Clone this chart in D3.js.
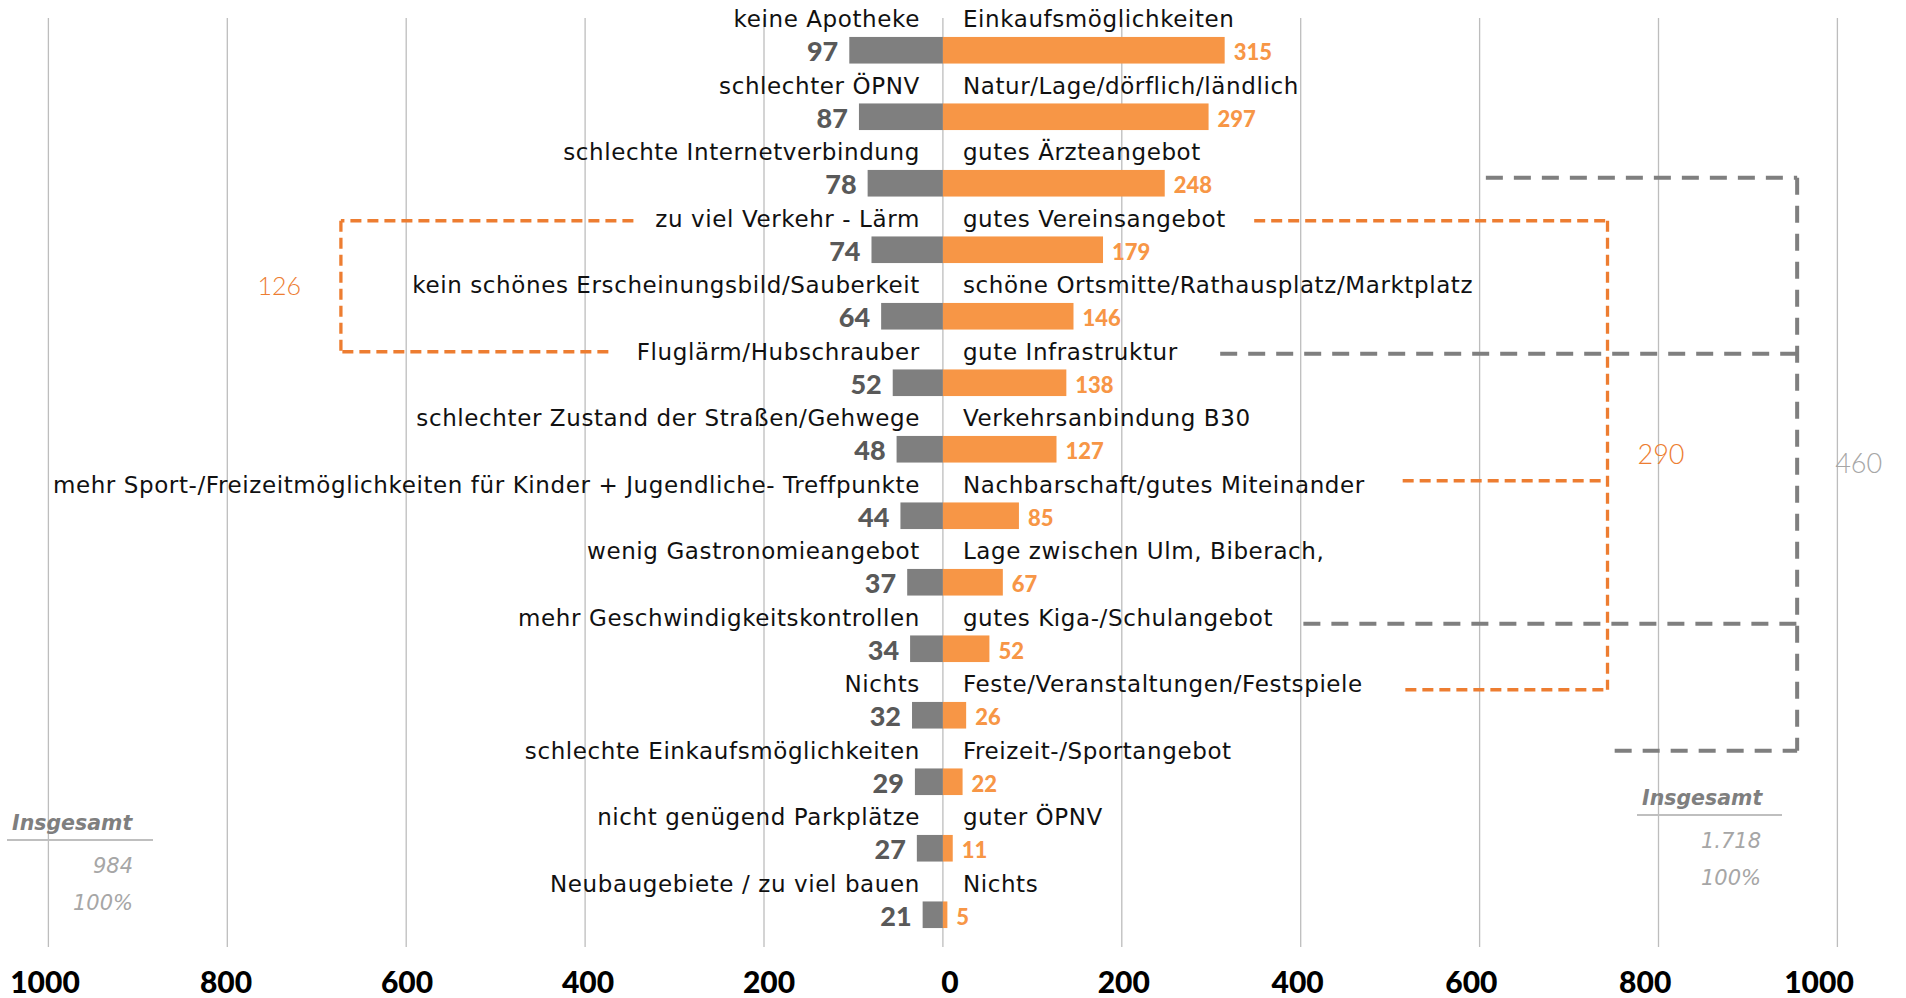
<!DOCTYPE html>
<html>
<head>
<meta charset="utf-8">
<script src="https://cdn.jsdelivr.net/npm/d3@7"></script>
<style>
  body { margin: 0; background: #fff; }
  svg { display: block; }
  .cat { font-family: "DejaVu Sans", sans-serif; font-size: 23px; letter-spacing: 0.6px; fill: #111; }
  .num { font-family: Lato, sans-serif; font-weight: 900; }
</style>
</head>
<body>
<script>
// Data
var leftLabels = [
    "keine Apotheke", "schlechter ÖPNV", "schlechte Internetverbindung",
    "zu viel Verkehr - Lärm", "kein schönes Erscheinungsbild/Sauberkeit",
    "Fluglärm/Hubschrauber", "schlechter Zustand der Straßen/Gehwege",
    "mehr Sport-/Freizeitmöglichkeiten für Kinder + Jugendliche- Treffpunkte",
    "wenig Gastronomieangebot", "mehr Geschwindigkeitskontrollen", "Nichts",
    "schlechte Einkaufsmöglichkeiten", "nicht genügend Parkplätze",
    "Neubaugebiete / zu viel bauen"
];
var leftValues = [97, 87, 78, 74, 64, 52, 48, 44, 37, 34, 32, 29, 27, 21];

var rightLabels = [
    "Einkaufsmöglichkeiten", "Natur/Lage/dörflich/ländlich", "gutes Ärzteangebot",
    "gutes Vereinsangebot", "schöne Ortsmitte/Rathausplatz/Marktplatz",
    "gute Infrastruktur", "Verkehrsanbindung B30", "Nachbarschaft/gutes Miteinander",
    "Lage zwischen Ulm, Biberach,", "gutes Kiga-/Schulangebot",
    "Feste/Veranstaltungen/Festspiele", "Freizeit-/Sportangebot", "guter ÖPNV", "Nichts"
];
var rightValues = [315, 297, 248, 179, 146, 138, 127, 85, 67, 52, 26, 22, 11, 5];

var ticks = [-1000, -800, -600, -400, -200, 0, 200, 400, 600, 800, 1000];
var tickLabels = ["1000", "800", "600", "400", "200", "0", "200", "400", "600", "800", "1000"];

// summed groups (dashed brackets): rows that are added up
var bracketTotals = ["126", "290", "460"];
var bracketRows = [[3, 5], [3, 7, 10], [2, 5, 9, 11]];
var bracketSide = ["left", "right", "right"];

var totalTitles = ["Insgesamt", "Insgesamt"];
var totalValues = ["984", "1.718"];
var totalPercents = ["100%", "100%"];

// Layout
var W = 1906, H = 998;
var ORANGE = "#f79646", ORANGE_LINE = "#ed7d31", GRAY = "#7f7f7f";

var svg = d3.select("body").append("svg")
    .attr("width", W).attr("height", H);

var x = d3.scaleLinear().domain([-1000, 1000]).range([48.4, 1837.4]);
// the left half of the original was drawn a bit wider
var xLeft = d3.scaleLinear().domain([0, 1000]).range([x(0), x(0) - 965]);
// tick texts were placed slightly off the grid in the original
var xTick = d3.scaleLinear().domain([-1000, 0, 1000]).range([45, 950, 1819]);

var rows = d3.range(leftLabels.length);
var y = d3.scaleBand().domain(rows).range([17, 948]).paddingInner(0.6).paddingOuter(0.3);
var yc = function(i) { return y(i) + y.bandwidth() / 2; };

// Grid
svg.append("g").selectAll("line")
    .data(ticks)
    .enter().append("line")
    .attr("x1", function(d) { return x(d); })
    .attr("x2", function(d) { return x(d); })
    .attr("y1", 18).attr("y2", 947)
    .attr("stroke", "#bdbdbd").attr("stroke-width", 1.3);

svg.append("g").selectAll("text")
    .data(ticks)
    .enter().append("text")
    .attr("class", "num")
    .attr("x", function(d) { return xTick(d); })
    .attr("y", 993)
    .attr("text-anchor", "middle")
    .attr("font-size", 30)
    .attr("fill", "#000")
    .text(function(d, i) { return tickLabels[i]; });

// Bars
svg.append("g").selectAll("rect")
    .data(leftValues)
    .enter().append("rect")
    .attr("x", function(d) { return xLeft(d); })
    .attr("y", function(d, i) { return y(i); })
    .attr("width", function(d) { return x(0) - xLeft(d); })
    .attr("height", y.bandwidth())
    .attr("fill", GRAY);

svg.append("g").selectAll("rect")
    .data(rightValues)
    .enter().append("rect")
    .attr("x", x(0))
    .attr("y", function(d, i) { return y(i); })
    .attr("width", function(d) { return x(d) - x(0); })
    .attr("height", y.bandwidth())
    .attr("fill", ORANGE);

// Value labels
svg.append("g").selectAll("text")
    .data(leftValues)
    .enter().append("text")
    .attr("class", "num")
    .attr("x", function(d) { return xLeft(d) - 11; })
    .attr("y", function(d, i) { return yc(i) + 11; })
    .attr("text-anchor", "end")
    .attr("font-size", 27)
    .attr("fill", "#595959")
    .text(function(d) { return d; });

svg.append("g").selectAll("text")
    .data(rightValues)
    .enter().append("text")
    .attr("class", "num")
    .attr("x", function(d) { return x(d) + 9; })
    .attr("y", function(d, i) { return yc(i) + 10; })
    .attr("font-size", 22)
    .attr("fill", ORANGE)
    .text(function(d) { return d; });

// Category labels
svg.append("g").selectAll("text")
    .data(leftLabels)
    .enter().append("text")
    .attr("class", "cat")
    .attr("x", x(0) - 23)
    .attr("y", function(d, i) { return yc(i) - 23; })
    .attr("text-anchor", "end")
    .text(function(d) { return d; });

svg.append("g").selectAll("text")
    .data(rightLabels)
    .enter().append("text")
    .attr("class", "cat")
    .attr("x", x(0) + 20)
    .attr("y", function(d, i) { return yc(i) - 23; })
    .text(function(d) { return d; });

// Dashed brackets
// vertical position of each bracket, arm ends and arm offsets (data units / px)
var bracketX = [-673, 743, 955];
var bracketEnds = [[-346, -374], [348, 514, 517], [607, 310, 403, 751]];
var bracketDy = [[-29, -31], [-29, -35, -25.5], [-5.5, -29, -25, -31]];
var bracketStyle = [
    {color: ORANGE_LINE, width: 3.3, dash: "11 6", text: ORANGE_LINE, dx: -40, size: 25},
    {color: ORANGE_LINE, width: 3.3, dash: "11 6", text: ORANGE_LINE, dx: 30, size: 27},
    {color: GRAY, width: 4, dash: "17 11", text: "#a6a6a6", dx: 38, size: 27}
];

bracketTotals.forEach(function(total, b) {
    var st = bracketStyle[b];
    var g = svg.append("g")
        .attr("fill", "none")
        .attr("stroke", st.color)
        .attr("stroke-width", st.width)
        .attr("stroke-dasharray", st.dash);
    var vx = x(bracketX[b]);
    var ys = bracketRows[b].map(function(r, k) { return yc(r) + bracketDy[b][k]; });

    g.append("line")
        .attr("x1", vx).attr("x2", vx)
        .attr("y1", ys[0]).attr("y2", ys[ys.length - 1]);
    ys.forEach(function(yy, k) {
        g.append("line")
            .attr("x1", x(bracketEnds[b][k])).attr("x2", vx)
            .attr("y1", yy).attr("y2", yy);
    });

    svg.append("text")
        .attr("x", vx + st.dx)
        .attr("y", (ys[0] + ys[ys.length - 1]) / 2 + 9)
        .attr("text-anchor", bracketSide[b] == "left" ? "end" : "start")
        .attr("font-family", "Lato, sans-serif")
        .attr("font-weight", 300)
        .attr("font-size", st.size)
        .attr("fill", st.text)
        .text(total);
});

// Totals boxes
var boxes = [
    {lineX: 7, lineW: 146, lineY: 840, right: 133},
    {lineX: 1637, lineW: 145, lineY: 815, right: 1761}
];
boxes.forEach(function(bx, i) {
    var g = svg.append("g");
    g.append("text")
        .attr("x", bx.lineX + 5)
        .attr("y", bx.lineY - 10)
        .attr("font-family", "DejaVu Sans, sans-serif")
        .attr("font-weight", 700)
        .attr("font-style", "italic")
        .attr("font-size", 20.5)
        .attr("fill", GRAY)
        .text(totalTitles[i]);
    g.append("line")
        .attr("x1", bx.lineX).attr("x2", bx.lineX + bx.lineW)
        .attr("y1", bx.lineY).attr("y2", bx.lineY)
        .attr("stroke", "#bfbfbf").attr("stroke-width", 2);
    [totalValues[i], totalPercents[i]].forEach(function(t, k) {
        g.append("text")
            .attr("x", bx.right)
            .attr("y", bx.lineY + 33 + k * 37)
            .attr("text-anchor", "end")
            .attr("font-family", "DejaVu Sans, sans-serif")
            .attr("font-style", "italic")
            .attr("font-weight", 300)
            .attr("font-size", 21)
            .attr("fill", "#a6a6a6")
            .text(t);
    });
});
</script>
</body>
</html>
